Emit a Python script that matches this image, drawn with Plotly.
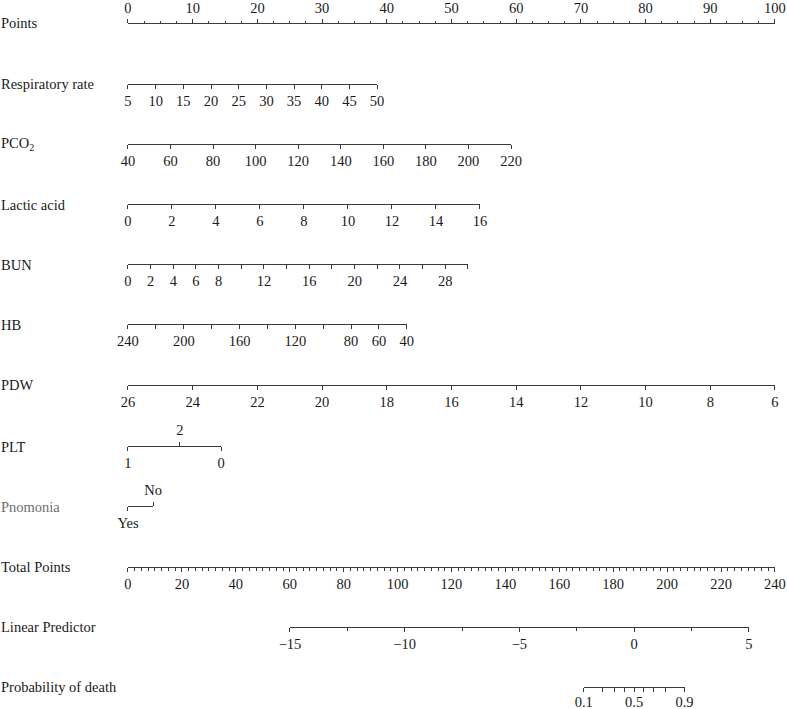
import numpy as np
import plotly.graph_objects as go

W, H = 787, 709
X_P0, X_P100 = 128, 775      # screen x of 0 and 100 points
LINE = "#3a3a3a"
TEXT = "#1a1a1a"
FONT = "Liberation Serif"
FS = 14.5

# ---- data ----
points_ticks = list(range(0, 101, 10))

resp_vals = [5, 10, 15, 20, 25, 30, 35, 40, 45, 50]
resp_pts_end = 38.5          # points at 50 (5 -> 0)

pco2_vals = [40, 60, 80, 100, 120, 140, 160, 180, 200, 220]
pco2_pts_end = 59.2          # points at 220 (40 -> 0)

lactic_vals = [0, 2, 4, 6, 8, 10, 12, 14, 16]
lactic_pts_end = 54.4        # points at 16

bun_vals = list(range(0, 31, 2))
bun_labels = [0, 2, 4, 6, 8, 12, 16, 20, 24, 28]
bun_pts_end = 52.55          # points at 30

hb_vals = list(range(240, 39, -20))
hb_labels = [240, 200, 160, 120, 80, 60, 40]
hb_pts_end = 43.1            # points at 40 (240 -> 0)

pdw_vals = list(range(26, 5, -2))
pdw_pts_end = 100.0          # points at 6 (26 -> 0)

plt_cats = ["1", "2", "0"]
plt_pts = [0.0, 8.0, 14.4]

pneu_cats = ["Yes", "No"]
pneu_pts = [0.0, 3.9]

total_ticks = list(range(0, 241, 20))
total_max = 240

lp_ticks = [-15, -10, -5, 0, 5]
lp_intercept = -22.06        # linear predictor at 0 total points
lp_slope = 0.1175            # per total point

prob_ticks = [0.1, 0.2, 0.3, 0.4, 0.5, 0.6, 0.7, 0.8, 0.9]
prob_labels = [0.1, 0.5, 0.9]


def lin(vals, v0, v1, p1):
    vals = np.asarray(vals, dtype=float)
    return (vals - v0) / (v1 - v0) * p1


def total_to_pts(tp):
    return np.asarray(tp, dtype=float) * 100.0 / total_max


def lp_to_pts(lp):
    return total_to_pts((np.asarray(lp, dtype=float) - lp_intercept) / lp_slope)


def px(p):
    return (X_P0 + p * (X_P100 - X_P0) / 100.0) / W


def py(y_px):
    return 1 - y_px / H


fig = go.Figure()
axis_count = [0]


def add_axis(pts, texts, y_px, side="bottom", lo=None, hi=None,
             ticklen=4, minor=None, standoff=0):
    axis_count[0] += 1
    i = axis_count[0]
    pts = [float(p) for p in pts]
    lo = min(pts) if lo is None else lo
    hi = max(pts) if hi is None else hi
    eps = (hi - lo) * 1e-6
    key = "xaxis" if i == 1 else f"xaxis{i}"
    ref = "x" if i == 1 else f"x{i}"
    fig.add_trace(go.Scatter(x=pts, y=[0] * len(pts), xaxis=ref, yaxis="y",
                             mode="markers", marker=dict(opacity=0),
                             hoverinfo="skip", showlegend=False))
    ax = dict(
        domain=[px(lo - eps), px(hi + eps)], range=[lo - eps, hi + eps],
        anchor="free", position=py(y_px), side=side,
        showline=True, linecolor=LINE, linewidth=1,
        ticks="outside", ticklen=ticklen, tickwidth=1, tickcolor=LINE,
        tickmode="array", tickvals=pts, ticktext=texts,
        showgrid=False, zeroline=False, fixedrange=True,
        tickfont=dict(family=FONT, size=FS, color=TEXT),
        ticklabelstandoff=standoff,
    )
    if minor:
        ax["minor"] = minor
    fig.layout[key] = ax


def fmt(v):
    return f"{v:g}".replace("-", "\u2212")


# Points
add_axis(lin(points_ticks, 0, 100, 100), [str(v) for v in points_ticks], 23, side="top",
         minor=dict(tickmode="linear", tick0=0, dtick=2.5, ticklen=2.5,
                    tickcolor=LINE, tickwidth=1, ticks="outside"))
# Respiratory rate
add_axis(lin(resp_vals, resp_vals[0], resp_vals[-1], resp_pts_end),
         [str(v) for v in resp_vals], 84)
# PCO2
add_axis(lin(pco2_vals, pco2_vals[0], pco2_vals[-1], pco2_pts_end),
         [str(v) for v in pco2_vals], 144)
# Lactic acid
add_axis(lin(lactic_vals, lactic_vals[0], lactic_vals[-1], lactic_pts_end),
         [str(v) for v in lactic_vals], 204)
# BUN
add_axis(lin(bun_vals, bun_vals[0], bun_vals[-1], bun_pts_end),
         [str(v) if v in bun_labels else "" for v in bun_vals], 264)
# HB
add_axis(lin(hb_vals, hb_vals[0], hb_vals[-1], hb_pts_end),
         [str(v) if v in hb_labels else "" for v in hb_vals], 324)
# PDW
add_axis(lin(pdw_vals, pdw_vals[0], pdw_vals[-1], pdw_pts_end),
         [str(v) for v in pdw_vals], 385)
# PLT (1 and 0 below, 2 above)
plt_lo, plt_hi = min(plt_pts), max(plt_pts)
add_axis([plt_pts[0], plt_pts[2]], [plt_cats[0], plt_cats[2]], 446, lo=plt_lo, hi=plt_hi)
add_axis([plt_pts[1]], [plt_cats[1]], 446, side="top", lo=plt_lo, hi=plt_hi, standoff=1)
# Pnomonia (Yes below, No above)
add_axis([pneu_pts[0]], [pneu_cats[0]], 506, lo=pneu_pts[0], hi=pneu_pts[1])
add_axis([pneu_pts[1]], [pneu_cats[1]], 506, side="top", lo=pneu_pts[0], hi=pneu_pts[1],
         standoff=1)
# Total Points
add_axis(total_to_pts(total_ticks), [str(v) for v in total_ticks], 567,
         minor=dict(tickmode="array",
                    tickvals=list(total_to_pts(np.arange(0, total_max + 0.1, 2.5))),
                    ticklen=3, tickcolor=LINE, tickwidth=1, ticks="outside"))
# Linear Predictor
add_axis(lp_to_pts(lp_ticks), [fmt(v) for v in lp_ticks], 627,
         minor=dict(tickmode="array",
                    tickvals=list(lp_to_pts(np.arange(lp_ticks[0], lp_ticks[-1] + 0.1, 2.5))),
                    ticklen=3, tickcolor=LINE, tickwidth=1, ticks="outside"))
# Probability of death
prob_lp = np.log(np.array(prob_ticks) / (1 - np.array(prob_ticks)))
add_axis(lp_to_pts(prob_lp), [fmt(p) if p in prob_labels else "" for p in prob_ticks], 687,
         standoff=-2)

# row labels
row_labels = [
    ("Points", 23, TEXT), ("Respiratory rate", 84, TEXT), ("PCO<sub>2</sub>", 144, TEXT),
    ("Lactic acid", 205, TEXT), ("BUN", 265, TEXT), ("HB", 325, TEXT), ("PDW", 385, TEXT),
    ("PLT", 447, TEXT), ("Pnomonia", 507, "#6e6e6e"), ("Total Points", 567, TEXT),
    ("Linear Predictor", 627, TEXT), ("Probability of death", 687, TEXT),
]
for text, y_px, col in row_labels:
    fig.add_annotation(text=text, x=0, y=py(y_px), xref="paper", yref="paper",
                       xanchor="left", yanchor="middle", showarrow=False,
                       borderpad=0,
                       font=dict(family=FONT, size=FS, color=col))

fig.update_layout(
    template="none",
    width=W, height=H,
    margin=dict(l=0, r=0, t=0, b=0),
    paper_bgcolor="white", plot_bgcolor="rgba(0,0,0,0)",
    showlegend=False,
    yaxis=dict(visible=False, domain=[0, 1], range=[-1, 1], fixedrange=True),
)

# drop the browser's default body margin so the figure sits at the page corner
fig.write_html("out.html", config={"displayModeBar": False},
               post_script="document.body.style.margin = '0px';")
